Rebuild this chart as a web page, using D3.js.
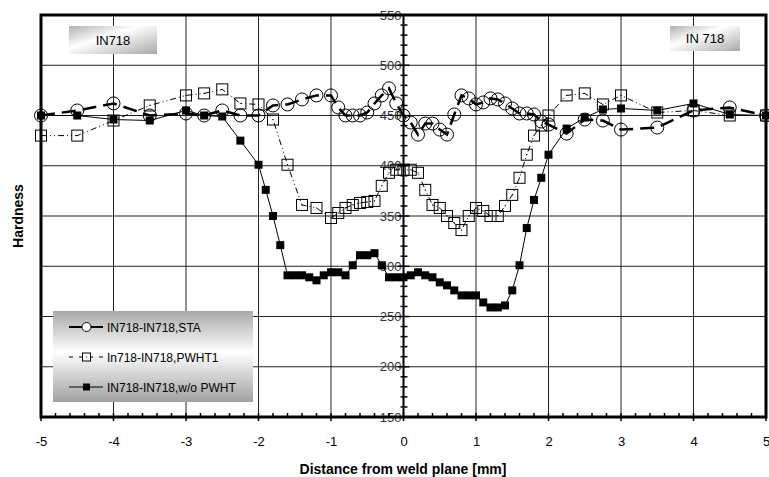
<!DOCTYPE html>
<html>
<head>
<meta charset="utf-8">
<script src="https://cdn.jsdelivr.net/npm/d3@7"></script>
<style>
body { margin: 0; background: #fff; }
text { font-family: "Liberation Sans", Arial, sans-serif; }
</style>
</head>
<body>
<svg width="769" height="477"></svg>
<script>
// hardness profiles across the weld plane
var staX = [-5, -4.5, -4, -3.5, -3, -2.75, -2.5, -2.25, -2, -1.8, -1.6, -1.4, -1.2, -1.0, -0.9, -0.8, -0.7, -0.6, -0.5, -0.4, -0.3, -0.2, -0.1, 0,
  0.1, 0.2, 0.3, 0.4, 0.5, 0.6, 0.7, 0.8, 0.9, 1.0, 1.1, 1.2, 1.3, 1.4, 1.5, 1.6, 1.7, 1.8, 1.9, 2.0, 2.25, 2.5, 2.75, 3.0, 3.5, 4.0, 4.5, 5.0];
var staY = [450, 455, 462, 450, 452, 450, 455, 450, 450, 460, 461, 466, 470, 470, 458, 450, 450, 450, 453, 462, 470, 477, 462, 450,
  443, 431, 442, 442, 436, 431, 451, 470, 467, 461, 463, 467, 466, 462, 457, 452, 452, 451, 444, 441, 432, 446, 445, 436, 438, 455, 458, 450];

var pwhtX = [-5, -4.5, -4, -3.5, -3, -2.75, -2.5, -2.25, -2, -1.8, -1.6, -1.4, -1.2, -1.0, -0.9, -0.8, -0.7, -0.6, -0.5, -0.4, -0.3, -0.2, -0.1, 0,
  0.1, 0.2, 0.3, 0.4, 0.5, 0.6, 0.7, 0.8, 0.9, 1.0, 1.1, 1.2, 1.3, 1.4, 1.5, 1.6, 1.7, 1.8, 1.9, 2.0, 2.25, 2.5, 2.75, 3.0, 3.5, 4.0, 4.5, 5.0];
var pwhtY = [430, 430, 445, 460, 470, 472, 476, 462, 461, 446, 401, 361, 358, 348, 353, 358, 361, 363, 364, 365, 380, 393, 396, 396,
  396, 393, 376, 361, 358, 350, 343, 336, 350, 358, 355, 350, 350, 360, 371, 388, 411, 430, 440, 450, 470, 472, 461, 470, 453, 455, 450, 450];

var woX = [-5, -4.5, -4, -3.5, -3, -2.75, -2.5, -2.25, -2, -1.9, -1.8, -1.7, -1.6, -1.5, -1.4, -1.3, -1.2, -1.1, -1.0, -0.9, -0.8, -0.7, -0.6, -0.5, -0.4, -0.3, -0.2, -0.1, 0,
  0.1, 0.2, 0.3, 0.4, 0.5, 0.6, 0.7, 0.8, 0.9, 1.0, 1.1, 1.2, 1.3, 1.4, 1.5, 1.6, 1.7, 1.8, 1.9, 2.0, 2.25, 2.5, 2.75, 3.0, 3.5, 4.0, 4.5, 5.0];
var woY = [450, 450, 446, 445, 455, 450, 449, 425, 401, 376, 350, 321, 291, 291, 291, 289, 286, 291, 294, 294, 291, 301, 311, 311, 313, 301, 289, 289, 289,
  291, 294, 291, 289, 284, 281, 276, 271, 271, 271, 264, 259, 259, 261, 276, 301, 338, 366, 388, 411, 437, 448, 456, 457, 455, 462, 451, 450];

var xTicks = [-5, -4, -3, -2, -1, 0, 1, 2, 3, 4, 5];
var yTicks = [150, 200, 250, 300, 350, 400, 450, 500, 550];
var legendLabels = ["IN718-IN718,STA", "In718-IN718,PWHT1", "IN718-IN718,w/o PWHT"];

var svg = d3.select("svg");
var mLeft = 41, mRight = 766, mTop = 15, mBottom = 417;

var x = d3.scaleLinear().domain([-5, 5]).range([mLeft, mRight]);
var y = d3.scaleLinear().domain([150, 550]).range([mBottom, mTop]);

var defs = svg.append("defs");
var grad = defs.append("linearGradient").attr("id", "boxg").attr("x1", 0).attr("y1", 0).attr("x2", 0).attr("y2", 1);
grad.append("stop").attr("offset", "0%").attr("stop-color", "#a8a8a8");
grad.append("stop").attr("offset", "45%").attr("stop-color", "#ffffff");
grad.append("stop").attr("offset", "100%").attr("stop-color", "#a0a0a0");
var grad2 = defs.append("linearGradient").attr("id", "titg").attr("x1", 0).attr("y1", 0).attr("x2", 1).attr("y2", 1);
grad2.append("stop").attr("offset", "0%").attr("stop-color", "#b0b0b0");
grad2.append("stop").attr("offset", "40%").attr("stop-color", "#ffffff");
grad2.append("stop").attr("offset", "100%").attr("stop-color", "#a8a8a8");

// grid
svg.append("g").selectAll("line").data(xTicks.slice(1, -1)).enter().append("line")
  .attr("x1", function(d) { return x(d); }).attr("x2", function(d) { return x(d); })
  .attr("y1", mTop).attr("y2", mBottom).attr("stroke", "#222").attr("stroke-width", 1);
svg.append("g").selectAll("line").data(yTicks.slice(1, -1)).enter().append("line")
  .attr("y1", function(d) { return y(d); }).attr("y2", function(d) { return y(d); })
  .attr("x1", mLeft).attr("x2", mRight).attr("stroke", "#222").attr("stroke-width", 1);

// y axis in the middle (at x = 0)
var yAxis = svg.append("g").attr("transform", "translate(" + x(0) + ",0)")
  .call(d3.axisLeft(y).tickValues(yTicks).tickSize(0).tickPadding(2));
yAxis.select(".domain").remove();
yAxis.selectAll("text").attr("font-size", 13).attr("fill", "#333")
  .attr("font-family", "Liberation Sans, Arial, sans-serif");
svg.append("line").attr("x1", x(0)).attr("x2", x(0)).attr("y1", mTop).attr("y2", mBottom)
  .attr("stroke", "#000").attr("stroke-width", 2);
svg.append("g").selectAll("line").data(d3.range(150, 551, 10)).enter().append("line")
  .attr("x1", function(d) { return x(0) - (d % 50 ? 3 : 6); })
  .attr("x2", function(d) { return x(0) + (d % 50 ? 4 : 6); })
  .attr("y1", function(d) { return y(d); }).attr("y2", function(d) { return y(d); })
  .attr("stroke", "#000").attr("stroke-width", 1.5);

// x axis labels and ticks
var xAxis = svg.append("g").attr("transform", "translate(0," + mBottom + ")")
  .call(d3.axisBottom(x).tickValues(xTicks).tickSize(0).tickPadding(20).tickFormat(function(d) { return String(d); }));
xAxis.select(".domain").remove();
xAxis.selectAll("text").attr("font-size", 13).attr("fill", "#000")
  .attr("font-family", "Liberation Sans, Arial, sans-serif");
svg.append("g").selectAll("line").data(d3.range(-50, 51, 2)).enter().append("line")
  .attr("x1", function(d) { return x(d / 10); }).attr("x2", function(d) { return x(d / 10); })
  .attr("y1", function(d) { return mBottom - 4; })
  .attr("y2", function(d) { return d % 10 ? mBottom : mBottom + 4; })
  .attr("stroke", "#000").attr("stroke-width", 1.5);

// frame
svg.append("rect").attr("x", mLeft).attr("y", mTop).attr("width", mRight - mLeft).attr("height", mBottom - mTop)
  .attr("fill", "none").attr("stroke", "#000").attr("stroke-width", 3);

function pts(xs, ys) { return xs.map(function(d, i) { return [d, ys[i]]; }); }
var line = d3.line().x(function(d) { return x(d[0]); }).y(function(d) { return y(d[1]); });

var sta = pts(staX, staY), pwht = pts(pwhtX, pwhtY), wo = pts(woX, woY);

// PWHT1: dash-dot-dot, open squares
svg.append("path").datum(pwht).attr("d", line).attr("fill", "none")
  .attr("stroke", "#000").attr("stroke-width", 1).attr("stroke-dasharray", "6,3,1,3,1,3");
var sq = svg.append("g").selectAll("g").data(pwht).enter().append("g")
  .attr("transform", function(d) { return "translate(" + x(d[0]) + "," + y(d[1]) + ")"; });
sq.append("rect").attr("x", -5.5).attr("y", -5.5).attr("width", 11).attr("height", 11)
  .attr("fill", "none").attr("stroke", "#000").attr("stroke-width", 1);
sq.append("rect").attr("x", -0.5).attr("y", -0.5).attr("width", 1).attr("height", 1).attr("fill", "#000");

// w/o PWHT: thin solid, filled squares
svg.append("path").datum(wo).attr("d", line).attr("fill", "none")
  .attr("stroke", "#000").attr("stroke-width", 1);
svg.append("g").selectAll("rect").data(wo).enter().append("rect")
  .attr("x", function(d) { return x(d[0]) - 4; }).attr("y", function(d) { return y(d[1]) - 4; })
  .attr("width", 8).attr("height", 8).attr("fill", "#000");

// STA: thick long dashes, open circles
svg.append("path").datum(sta).attr("d", line).attr("fill", "none")
  .attr("stroke", "#000").attr("stroke-width", 2.5).attr("stroke-dasharray", "14,7");
svg.append("g").selectAll("circle").data(sta).enter().append("circle")
  .attr("cx", function(d) { return x(d[0]); }).attr("cy", function(d) { return y(d[1]); })
  .attr("r", 6.5).attr("fill", "none").attr("stroke", "#000").attr("stroke-width", 1);

// material labels
svg.append("rect").attr("x", 69).attr("y", 26).attr("width", 88).attr("height", 28).attr("fill", "url(#titg)");
svg.append("text").attr("x", 113).attr("y", 45).attr("text-anchor", "middle").attr("font-size", 13).text("IN718");
svg.append("rect").attr("x", 670).attr("y", 26).attr("width", 70).attr("height", 25).attr("fill", "url(#titg)");
svg.append("text").attr("x", 705).attr("y", 43).attr("text-anchor", "middle").attr("font-size", 13).text("IN 718");

// legend
var lg = svg.append("g");
lg.append("rect").attr("x", 53).attr("y", 311).attr("width", 200).attr("height", 91).attr("fill", "url(#boxg)");
var rows = lg.selectAll("g").data(legendLabels).enter().append("g")
  .attr("transform", function(d, i) { return "translate(0," + [327, 357, 387][i] + ")"; });
rows.append("text").attr("x", 107).attr("y", 4.5).attr("font-size", 12).text(function(d) { return d; });
rows.filter(function(d, i) { return i == 0; }).call(function(g) {
  g.append("line").attr("x1", 69).attr("x2", 103).attr("stroke", "#000").attr("stroke-width", 2);
  g.append("circle").attr("cx", 86.5).attr("r", 4.5).attr("fill", "#fff").attr("stroke", "#000");
});
rows.filter(function(d, i) { return i == 1; }).call(function(g) {
  g.append("line").attr("x1", 69).attr("x2", 103).attr("stroke", "#000").attr("stroke-dasharray", "4,6,14,6,4");
  g.append("rect").attr("x", 82.5).attr("y", -4).attr("width", 8).attr("height", 8).attr("fill", "#fff").attr("stroke", "#000");
  g.append("rect").attr("x", 86).attr("y", -0.5).attr("width", 1).attr("height", 1).attr("fill", "#000");
});
rows.filter(function(d, i) { return i == 2; }).call(function(g) {
  g.append("line").attr("x1", 69).attr("x2", 103).attr("stroke", "#000");
  g.append("rect").attr("x", 83).attr("y", -3.5).attr("width", 7).attr("height", 7).attr("fill", "#000");
});

// axis titles
svg.append("text").attr("x", 403).attr("y", 474).attr("text-anchor", "middle")
  .attr("font-size", 14).attr("font-weight", "bold").text("Distance from weld plane [mm]");
svg.append("text").attr("transform", "translate(23,216) rotate(-90)").attr("text-anchor", "middle")
  .attr("font-size", 14).attr("font-weight", "bold").text("Hardness");
</script>
</body>
</html>
